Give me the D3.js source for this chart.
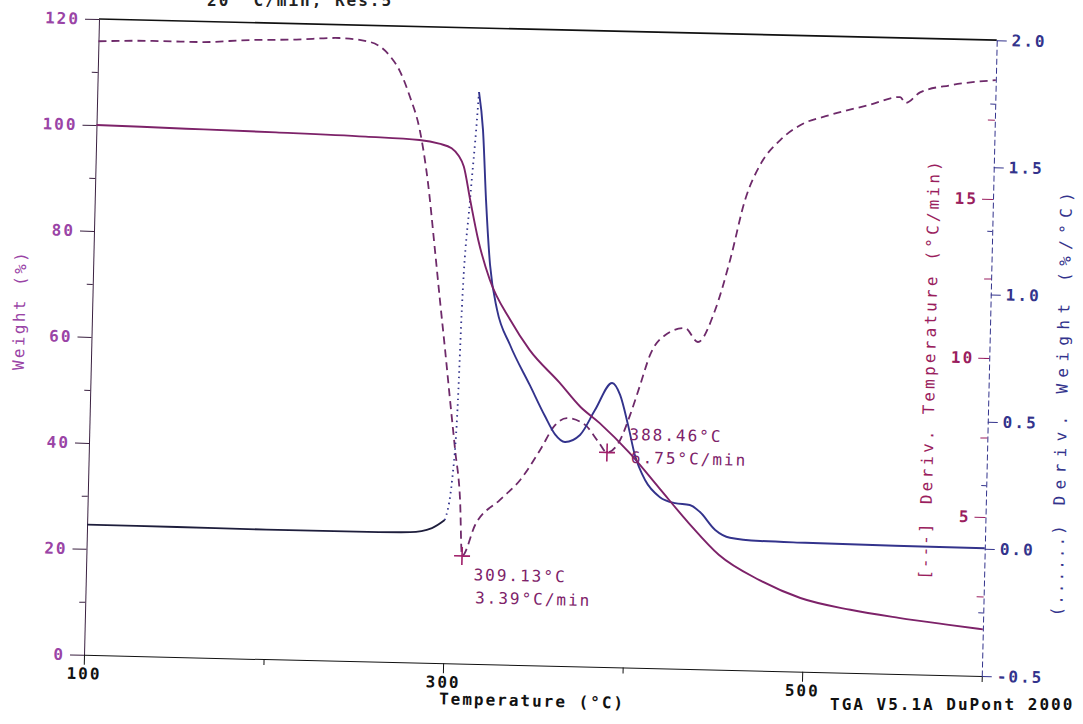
<!DOCTYPE html>
<html>
<head>
<meta charset="utf-8">
<script src="https://cdn.jsdelivr.net/npm/d3@7"></script>
<style>
body { margin: 0; background: #fff; }
text { font-family: "DejaVu Sans Mono", monospace; font-size: 16px; letter-spacing: 2px; }
.tk text { font-weight: bold; }
</style>
</head>
<body>
<script>
// weight (%) vs temperature
var weightTemp = [100, 150, 200, 250, 280, 291, 298, 302, 305, 309, 314, 321, 333, 344, 361, 373, 384, 401, 418, 435, 452, 475, 498, 526, 553, 581, 600];
var weightPct  = [100.0, 99.7, 99.4, 99.0, 98.6, 98.0, 97.2, 95.8, 93.8, 87.5, 80.0, 72.5, 65.0, 59.5, 53.5, 49.0, 46.0, 40.5, 34.0, 27.5, 21.7, 17.1, 13.9, 11.9, 10.6, 9.5, 8.8];

// deriv. temperature (°C/min)
var dtTemp = [100, 130, 156, 184, 210, 234, 251, 262, 268, 274, 280, 285, 290, 293.5, 297, 300.4, 303.9, 307.3, 309.13, 316, 329.5, 340.5, 351.2, 359.2, 365.8, 375.9, 383.5, 388.46, 395.6, 400.8, 406, 411.1, 419.2, 430.2, 437.6, 446.8, 454.5, 462, 469.9, 480.8, 491.7, 508, 530, 547, 550, 558, 575, 600];
var dtRate = [19.3, 19.35, 19.35, 19.45, 19.5, 19.58, 19.48, 19.08, 18.6, 17.8, 16.75, 15.2, 13.0, 11.4, 9.85, 8.28, 6.71, 5.14, 3.39, 4.37, 5.18, 5.82, 6.78, 7.57, 7.8, 7.6, 7.08, 6.75, 7.15, 7.94, 8.89, 9.84, 10.48, 10.72, 10.29, 11.31, 12.9, 14.79, 15.9, 16.7, 17.18, 17.52, 17.87, 18.14, 17.96, 18.3, 18.55, 18.74];

// deriv. weight (%/°C)
var dwTemp = [100, 150, 200, 250, 280, 292, 299, 302.6, 304.8, 305.8, 308.9, 311.7, 312.5, 315.2, 317.8, 320.9, 325.4, 333.1, 344.7, 353.5, 359.3, 364.9, 373.2, 381.2, 390.4, 395, 399.8, 404, 410, 418.5, 427, 435.2, 441, 449.7, 458, 475, 500, 550, 600];
var dwRate = [0.012, 0.011, 0.009, 0.009, 0.012, 0.030, 0.063, 0.221, 0.536, 0.902, 1.323, 1.638, 1.748, 1.60, 1.325, 1.07, 0.894, 0.757, 0.60, 0.48, 0.41, 0.381, 0.41, 0.509, 0.617, 0.571, 0.454, 0.336, 0.239, 0.173, 0.151, 0.145, 0.118, 0.049, 0.02, 0.01, 0.007, 0.004, 0.002];

// peak labels
var peakTemp = [309.13, 388.46];
var peakRate = [3.39, 6.75];

var width = 898, height = 636;

var svg = d3.select("body").append("svg")
  .attr("width", 1083)
  .attr("height", 724);

// scanned sheet is slightly tilted
var g = svg.append("g")
  .attr("transform", "translate(99,19) rotate(1.35)");

var x = d3.scaleLinear().domain([100, 600]).range([0, width]);
var yW = d3.scaleLinear().domain([0, 120]).range([height, 0]);
var yT = d3.scaleLinear().domain([0, 20]).range([height, 0]);
var yD = d3.scaleLinear().domain([-0.5, 2.0]).range([height, 0]);

var purple = "#7d2269", crimson = "#9a1d5e", navy = "#33338c", lilac = "#9a44a6";

// frame top
g.append("line").attr("x1", 0).attr("x2", width).attr("y1", 0).attr("y2", 0)
  .attr("stroke", "#111").attr("stroke-width", 1.6);

// left axis
var gl = g.append("g").attr("class", "tk")
  .call(d3.axisLeft(yW).tickValues([0, 20, 40, 60, 80, 100, 120]).tickSize(14).tickPadding(5).tickSizeOuter(0))
  .attr("color", "#3a2040");
gl.selectAll("text").attr("fill", lilac);
g.append("g")
  .call(d3.axisLeft(yW).tickValues([10, 30, 50, 70, 90, 110]).tickSize(6).tickFormat("").tickSizeOuter(0))
  .attr("color", "#3a2040").select(".domain").remove();

// bottom axis
g.append("g").attr("class", "tk")
  .attr("transform", "translate(0," + height + ")")
  .call(d3.axisBottom(x).tickValues([100, 300, 500]).tickSize(10).tickPadding(3).tickSizeOuter(0))
  .attr("color", "#111");
g.append("g")
  .attr("transform", "translate(0," + height + ")")
  .call(d3.axisBottom(x).tickValues([200, 400, 600]).tickSize(6).tickFormat("").tickSizeOuter(0))
  .attr("color", "#111").select(".domain").remove();

// right axis: deriv. weight
var gr = g.append("g").attr("class", "tk")
  .attr("transform", "translate(" + width + ",0)")
  .call(d3.axisRight(yD).tickValues([2.0, 1.5, 1.0, 0.5, 0.0, -0.5]).tickSize(10).tickPadding(5)
    .tickFormat(function (d) { return d.toFixed(1); }).tickSizeOuter(0))
  .attr("color", navy);
gr.select(".domain").attr("stroke-dasharray", "6,3");
g.append("g")
  .attr("transform", "translate(" + width + ",0)")
  .call(d3.axisLeft(yD).tickValues([1.75, 1.25, 0.75, 0.25, -0.25]).tickSize(5).tickFormat("").tickSizeOuter(0))
  .attr("color", navy).select(".domain").remove();

// right axis: deriv. temperature
var gt = g.append("g").attr("class", "tk")
  .attr("transform", "translate(" + width + ",0)")
  .call(d3.axisLeft(yT).tickValues([5, 10, 15]).tickSize(11).tickPadding(4).tickSizeOuter(0))
  .attr("color", crimson);
gt.select(".domain").remove();
g.append("g")
  .attr("transform", "translate(" + width + ",0)")
  .call(d3.axisLeft(yT).tickValues([2.5, 7.5, 12.5, 17.5]).tickSize(7).tickFormat("").tickSizeOuter(0))
  .attr("color", crimson).select(".domain").remove();

// curves
var wLine = d3.line().curve(d3.curveMonotoneX)
  .x(function (d) { return x(d[0]); }).y(function (d) { return yW(d[1]); });
var tLine = d3.line().curve(d3.curveMonotoneX)
  .x(function (d) { return x(d[0]); }).y(function (d) { return yT(d[1]); });
var dLine = d3.line().curve(d3.curveMonotoneX)
  .x(function (d) { return x(d[0]); }).y(function (d) { return yD(d[1]); });

var wData = d3.zip(weightTemp, weightPct);
var tData = d3.zip(dtTemp, dtRate);
var dData = d3.zip(dwTemp, dwRate);

g.append("path").datum(tData).attr("d", tLine)
  .attr("fill", "none").attr("stroke", "#6e2a6a").attr("stroke-width", 1.8)
  .attr("stroke-dasharray", "8,5");

// deriv. weight: the fast rising edge plots as dots
var i0 = dwTemp.indexOf(299), i1 = dwTemp.indexOf(312.5);
g.append("path").datum(dData.slice(0, i0 + 1)).attr("d", dLine)
  .attr("fill", "none").attr("stroke", "#1e1e3c").attr("stroke-width", 1.8);
g.append("path").datum(dData.slice(i0, i1 + 1)).attr("d", dLine)
  .attr("fill", "none").attr("stroke", navy).attr("stroke-width", 1.8)
  .attr("stroke-dasharray", "1.5,4");
g.append("path").datum(dData.slice(i1)).attr("d", dLine)
  .attr("fill", "none").attr("stroke", navy).attr("stroke-width", 1.9);

g.append("path").datum(wData).attr("d", wLine)
  .attr("fill", "none").attr("stroke", purple).attr("stroke-width", 1.9);

// peak markers and labels
var offs = [[12, 24, 47], [22, -13, 10]];
peakTemp.forEach(function (t, i) {
  var px = x(t), py = yT(peakRate[i]);
  g.append("path")
    .attr("d", "M" + (px - 8) + "," + py + "H" + (px + 8) + "M" + px + "," + (py - 9) + "V" + (py + 9))
    .attr("stroke", "#a0206a").attr("stroke-width", 1.6);
  g.append("text").attr("x", px + offs[i][0]).attr("y", py + offs[i][1])
    .attr("fill", purple).text(t.toFixed(2) + "°C");
  g.append("text").attr("x", px + offs[i][0] + 2).attr("y", py + offs[i][2])
    .attr("fill", purple).text(peakRate[i].toFixed(2) + "°C/min");
});

// axis titles
g.append("text").attr("transform", "translate(-67,293) rotate(-90)")
  .attr("text-anchor", "middle").attr("fill", lilac)
  .attr("textLength", 120).attr("lengthAdjust", "spacing").text("Weight (%)");
g.append("text").attr("x", width / 2).attr("y", height + 41)
  .attr("text-anchor", "middle").attr("fill", "#111")
  .style("font-weight", "bold").text("Temperature (°C)");
g.append("text").attr("transform", "translate(844,293) rotate(-90)")
  .attr("text-anchor", "middle").attr("fill", crimson)
  .attr("textLength", 345).attr("lengthAdjust", "spacing").text("Deriv. Temperature (°C/min)");
g.append("text").attr("transform", "translate(844,512) rotate(-90)")
  .attr("text-anchor", "middle").attr("fill", crimson).text("[---]");
g.append("text").attr("transform", "translate(977,306) rotate(-90)")
  .attr("text-anchor", "middle").attr("fill", navy)
  .attr("textLength", 315).attr("lengthAdjust", "spacing").text("Deriv. Weight (%/°C)");
g.append("text").attr("transform", "translate(977,528) rotate(-90)")
  .attr("text-anchor", "middle").attr("fill", navy).text("(......)");

// sheet texts
svg.append("text").attr("x", 207).attr("y", 6).attr("fill", "#222")
  .style("font-weight", "bold").text("20 °C/min, Res.5");
svg.append("text").attr("x", 830).attr("y", 710).attr("fill", "#111")
  .style("font-weight", "bold").text("TGA V5.1A DuPont 2000");
</script>
</body>
</html>
